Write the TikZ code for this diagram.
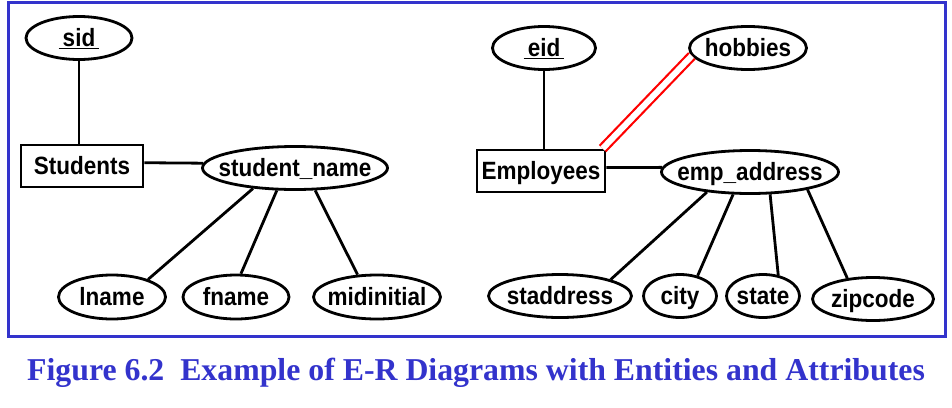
\documentclass[tikz,border=0pt]{standalone}
\usepackage{fontspec}
\setmainfont{Liberation Serif}
\newfontfamily\erfont{Liberation Sans}[FakeStretch=0.9]
\usetikzlibrary{shapes.geometric}
\definecolor{frameblue}{RGB}{51,51,204}
\tikzset{
  erline/.style={line width=2.8pt, draw=black},
  attr/.style={ellipse, draw, line width=2.8pt, inner sep=0pt, minimum height=43pt,
    font=\erfont\bfseries\fontsize{25}{29}\selectfont, text height=17pt, text depth=0pt},
  entity/.style={rectangle, draw, line width=2.8pt, inner sep=0pt, minimum height=42pt,
    font=\erfont\bfseries\fontsize{25}{29}\selectfont, text height=17pt, text depth=0pt},
}
\newcommand{\keyword}[1]{\underline{\,#1\,}}
\newcommand{\ertext}[1]{\makebox[0pt]{#1}}
\begin{document}
\begin{tikzpicture}[x=1pt,y=-1pt]
\useasboundingbox (0,0) rectangle (952,407);
\draw[frameblue, line width=3pt] (8,2) rectangle (945,336);
% left diagram
\node[attr, minimum width=106pt] (sid) at (79,38) {\ertext{\keyword{sid}}};
\node[entity, minimum width=122pt] (stu) at (82,166) {\ertext{Students}};
\node[attr, minimum width=185pt] (sn) at (295,168) {\ertext{student\_name}};
\node[attr, minimum width=107pt, minimum height=44pt] (ln) at (112,297) {\ertext{lname}};
\node[attr, minimum width=106pt, minimum height=44pt] (fn) at (236,297) {\ertext{fname}};
\node[attr, minimum width=127pt, minimum height=44pt] (mi) at (377,297) {\ertext{midinitial}};
\draw[erline] (sid.south) -- (sid.south |- stu.north);
\draw[erline] (stu.3) -- (sn.177);
\draw[erline] (sn.206) -- (ln.26);
\draw[erline] (sn.231) -- (fn.78);
\draw[erline] (sn.312) -- (mi.131);
% right diagram
\node[attr, minimum width=103pt] (eid) at (544,48) {\ertext{\keyword{eid}}};
\node[attr, minimum width=117pt] (hob) at (748,48) {\ertext{hobbies}};
\node[entity, minimum width=128pt] (emp) at (541,171) {\ertext{Employees}};
\node[attr, minimum width=177pt] (ea) at (750,172) {\ertext{emp\_address}};
\node[attr, minimum width=143pt] (sa) at (560,296) {\ertext{staddress}};
\node[attr, minimum width=73pt] (ci) at (680,296) {\ertext{city}};
\node[attr, minimum width=73pt] (st) at (763,296) {\ertext{state}};
\node[attr, minimum width=121pt] (zc) at (873,299) {\ertext{zipcode}};
\draw[erline] (eid.south) -- (eid.south |- emp.north);
\draw[erline] (emp.3.5) -- (ea.177);
\draw[red, line width=2.2pt, double=white, double distance=6pt] (emp.20.6) -- (hob.188);
\draw[erline] (ea.205) -- (sa.18);
\draw[erline] (ea.233) -- (ci.49);
\draw[erline] (ea.312) -- (st.54);
\draw[erline] (ea.343) -- (zc.141);
% caption
\node[anchor=base west, inner sep=0pt, text=frameblue, font=\bfseries\fontsize{31.8}{36}\selectfont] (cap) at (27,380) {Figure 6.2\ \ Example of E-R Diagrams with Entities and Attributes};
\end{tikzpicture}
\end{document}
